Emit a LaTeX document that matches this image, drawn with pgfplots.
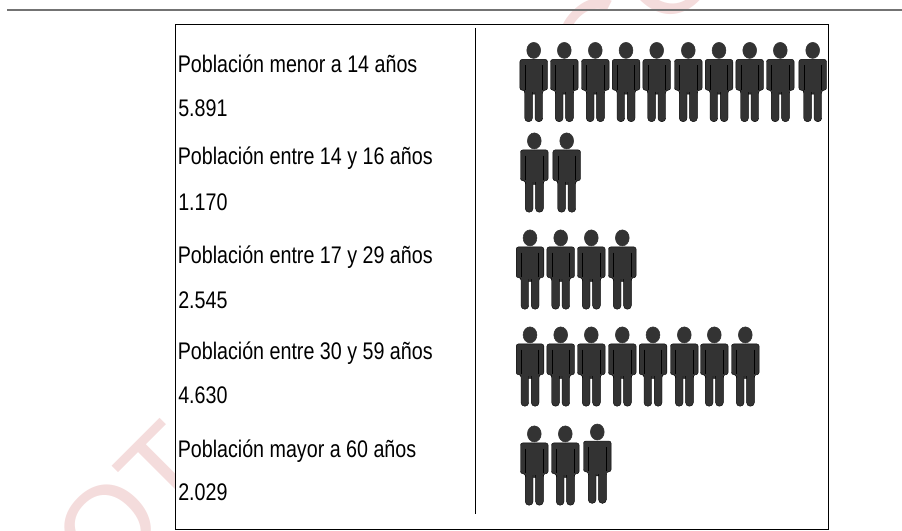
\documentclass[border=0pt]{standalone}
\usepackage{pgfplots}
\usepackage{fontspec}
\setmainfont[FakeStretch=0.82]{Liberation Sans}
\newfontfamily\wmfont{Liberation Sans}
\pgfplotsset{compat=1.18}
\definecolor{wm}{HTML}{F4DCDC}
\definecolor{body}{HTML}{333333}
\pgfdeclareplotmark{person}{%
  \begin{scope}[x=0.75pt,y=0.75pt]
    \fill[body] (0,31.8) ellipse [x radius=6.9,y radius=8];
    \filldraw[fill=body,draw=black,line width=0.3pt,rounded corners=1.7pt]
      (-13.8,22.8)--(13.8,22.8)--(13.8,-8)--(9,-8)--(9,-12)--(-9,-12)--(-9,-8)--(-13.8,-8)--cycle;
    \filldraw[fill=body,draw=black,line width=0.3pt,rounded corners=2.7pt]
      (-9,-5)--(-1.3,-5)--(-1.3,-39.5)--(-9,-39.5)--cycle;
    \filldraw[fill=body,draw=black,line width=0.3pt,rounded corners=2.7pt]
      (1.3,-5)--(9,-5)--(9,-39.5)--(1.3,-39.5)--cycle;
    \fill[body] (-8.7,0) rectangle (8.7,-9);
    \draw[black,line width=0.4pt] (-8.7,17)--(-8.7,-7.5) (8.7,17)--(8.7,-7.5);
  \end{scope}}
\newcommand{\lab}[3]{\node[anchor=base west,inner sep=0pt,font=\fontsize{18}{21}\selectfont] at (axis cs:#1,#2) {#3};}
\newcommand{\wmletter}[3]{\node[rotate=45,text=wm,inner sep=0pt,font=\wmfont\fontsize{90}{90}\selectfont] at (axis cs:#1,#2) {#3};}
\begin{document}
\begin{tikzpicture}
\clip (0,0) rectangle (676.5pt,398.25pt);
\begin{axis}[at={(0,0)},anchor=south west,scale only axis,width=676.5pt,height=398.25pt,
  xmin=0,xmax=902,ymin=0,ymax=531,y dir=reverse,hide axis,clip=false]
% watermark
\wmletter{108}{528}{O}
\wmletter{165.4}{471}{T}
\wmletter{601}{44}{C}
\wmletter{669}{-29}{O}
% frame
\draw[black,line width=0.8pt,fill=white] (axis cs:175.5,24.3) rectangle (axis cs:828.3,529.7);
\draw[black!55,line width=1.5pt] (axis cs:7,10) -- (axis cs:902,10);
\draw[black,line width=0.9pt] (axis cs:475.5,28) -- (axis cs:475.5,514);
% labels
\lab{177.5}{72.7}{Población menor a 14 años}
\lab{178}{116.7}{5.891}
\lab{177.5}{165}{Población entre 14 y 16 años}
\lab{178}{210}{1.170}
\lab{177.5}{263}{Población entre 17 y 29 años}
\lab{178}{308}{2.545}
\lab{177.5}{359}{Población entre 30 y 59 años}
\lab{178}{403}{4.630}
\lab{177.5}{457}{Población mayor a 60 años}
\lab{178}{500}{2.029}
% pictograms
\addplot[only marks,mark=person] coordinates {(533.7,82.2)(564.3,82.2)(595.3,82.2)(626,82.2)(656.7,82.2)(688.3,82.2)(719,82.2)(749.7,82.2)(780.3,82.2)(812.7,82.2)};
\addplot[only marks,mark=person] coordinates {(534.3,172.7)(566.7,172.7)};
\addplot[only marks,mark=person] coordinates {(530,269.7)(560.7,269.7)(591.3,269.7)(622.3,269.7)};
\addplot[only marks,mark=person] coordinates {(530,366.7)(560.7,366.7)(591.3,366.7)(622.3,366.7)(653,366.7)(684.3,366.7)(714.3,366.7)(745.3,366.7)};
\addplot[only marks,mark=person] coordinates {(534.3,465.7)(565.3,465.7)(597.3,463.8)};
\end{axis}
\end{tikzpicture}
\end{document}
